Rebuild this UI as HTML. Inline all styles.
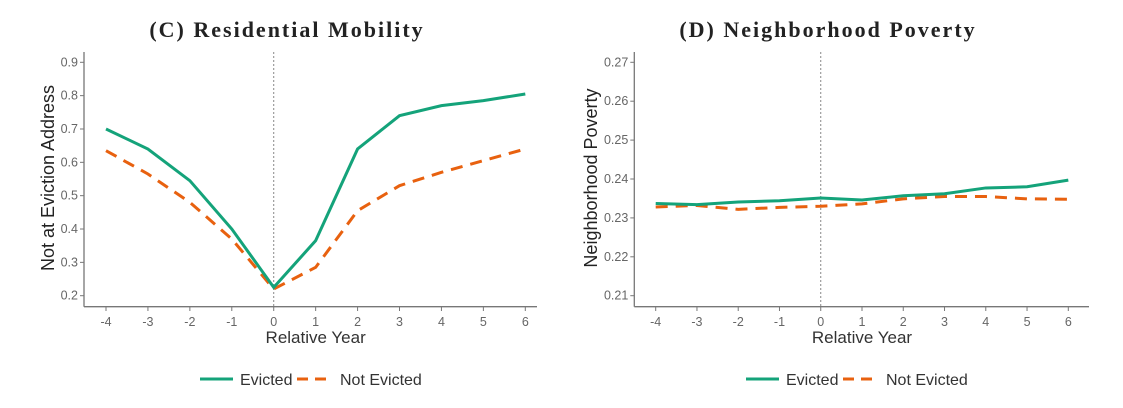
<!DOCTYPE html>
<html><head><meta charset="utf-8"><style>
body{margin:0;background:#fff;}
svg{display:block;font-family:"Liberation Sans",sans-serif;}
.tick{fill:#666;font-size:12.5px;}
.ttl{font-family:"Liberation Serif",serif;font-weight:bold;font-size:22px;fill:#222;letter-spacing:2px;}
</style></head><body>
<svg id="c" width="1123" height="408"></svg>
<script>
const years=[-4,-3,-2,-1,0,1,2,3,4,5,6];
const mobEvicted=[0.70,0.64,0.545,0.40,0.225,0.365,0.64,0.74,0.77,0.785,0.805];
const mobNot=[0.635,0.565,0.48,0.37,0.22,0.285,0.455,0.53,0.57,0.605,0.64];
const povEvicted=[0.2337,0.2334,0.2341,0.2344,0.2351,0.2346,0.2357,0.2362,0.2377,0.2380,0.2397];
const povNot=[0.2328,0.2332,0.2322,0.2327,0.2330,0.2336,0.2349,0.2355,0.2355,0.2349,0.2348];
const mobTicks=[0.2,0.3,0.4,0.5,0.6,0.7,0.8,0.9];
const povTicks=[0.21,0.22,0.23,0.24,0.25,0.26,0.27];
const NS='http://www.w3.org/2000/svg';
const svg=document.getElementById('c');
function mk(t,a,p){const e=document.createElementNS(NS,t);for(const k in a)e.setAttribute(k,a[k]);(p||svg).appendChild(e);return e;}
function panel(o){
  const g=mk('g',{});
  
  
  const xs=v=>o.x0+(v-years[0])*(o.x1-o.x0)/(years[years.length-1]-years[0]);
  const ys=v=>o.yb-(v-o.ticks[0])*(o.yb-o.yt)/(o.ticks[o.ticks.length-1]-o.ticks[0]);
  const t=mk('text',{x:o.cx,y:37,'text-anchor':'middle',class:'ttl'},g);t.textContent=o.title;
  
  
  const ya=mk('line',{x1:o.ax,y1:52,x2:o.ax,y2:306.7,stroke:'#777','stroke-width':1.3},g);
  
  
  const xa=mk('line',{x1:o.ax,y1:306.7,x2:o.xend,y2:306.7,stroke:'#777','stroke-width':1.3},g);
  
  
  o.ticks.forEach((v,i)=>{
    const y=ys(v);
    mk('line',{x1:o.ax-4,y1:y,x2:o.ax,y2:y,stroke:'#777'},g);
    const l=mk('text',{x:o.ax-6,y:y+4,'text-anchor':'end',class:'tick'},g);l.textContent=o.labels[i];
    
    
  });
  years.forEach(v=>{
    const x=xs(v);
    mk('line',{x1:x,y1:306.7,x2:x,y2:311,stroke:'#777'},g);
    const l=mk('text',{x:x,y:326,'text-anchor':'middle',class:'tick'},g);l.textContent=v;
    
    
  });
  const vl=mk('line',{x1:xs(0),y1:52,x2:xs(0),y2:306,stroke:'#888','stroke-dasharray':'2,2','stroke-width':1},g);
  
  
  const xt=mk('text',{x:(xs(-4)+xs(6))/2,y:343,'text-anchor':'middle','font-size':17,fill:'#333'},g);xt.textContent='Relative Year';
  
  
  const yt=mk('text',{x:0,y:0,'text-anchor':'middle','font-size':18,fill:'#222',transform:`translate(${o.ytx},${o.yty}) rotate(-90)`},g);yt.textContent=o.ytitle;
  
  
  const pn=mk('polyline',{points:o.b.map((v,i)=>xs(years[i])+','+ys(v)).join(' '),fill:'none',stroke:'#e8610f','stroke-width':3,'stroke-dasharray':'12,8'},g);
  
  
  const pe=mk('polyline',{points:o.a.map((v,i)=>xs(years[i])+','+ys(v)).join(' '),fill:'none',stroke:'#14a37a','stroke-width':3},g);
  
  
  const lg=mk('g',{},g);
  
  
  mk('line',{x1:o.lx,y1:379,x2:o.lx+33,y2:379,stroke:'#14a37a','stroke-width':3},lg);
  const t1=mk('text',{x:o.lx+40,y:385,'font-size':16,fill:'#333'},lg);t1.textContent='Evicted';
  mk('line',{x1:o.lx+97,y1:379,x2:o.lx+131,y2:379,stroke:'#e8610f','stroke-width':3,'stroke-dasharray':'11,7'},lg);
  const t2=mk('text',{x:o.lx+140,y:385,'font-size':16,fill:'#333'},lg);t2.textContent='Not Evicted';
}
panel({name:'residential-mobility-panel',title:'(C) Residential Mobility',cx:287,ax:84,xend:537,x0:106,x1:525.3,yt:62.3,yb:295.7,ticks:mobTicks,labels:mobTicks.map(v=>v.toFixed(1)),a:mobEvicted,b:mobNot,ytx:54,yty:178,ytitle:'Not at Eviction Address',lx:200});
panel({name:'neighborhood-poverty-panel',title:'(D) Neighborhood Poverty',cx:828,ax:634.3,xend:1089,x0:655.7,x1:1068.3,yt:62.3,yb:295.7,ticks:povTicks,labels:povTicks.map(v=>v.toFixed(2)),a:povEvicted,b:povNot,ytx:597,yty:178,ytitle:'Neighborhood Poverty',lx:746});
</script>
</body></html>
